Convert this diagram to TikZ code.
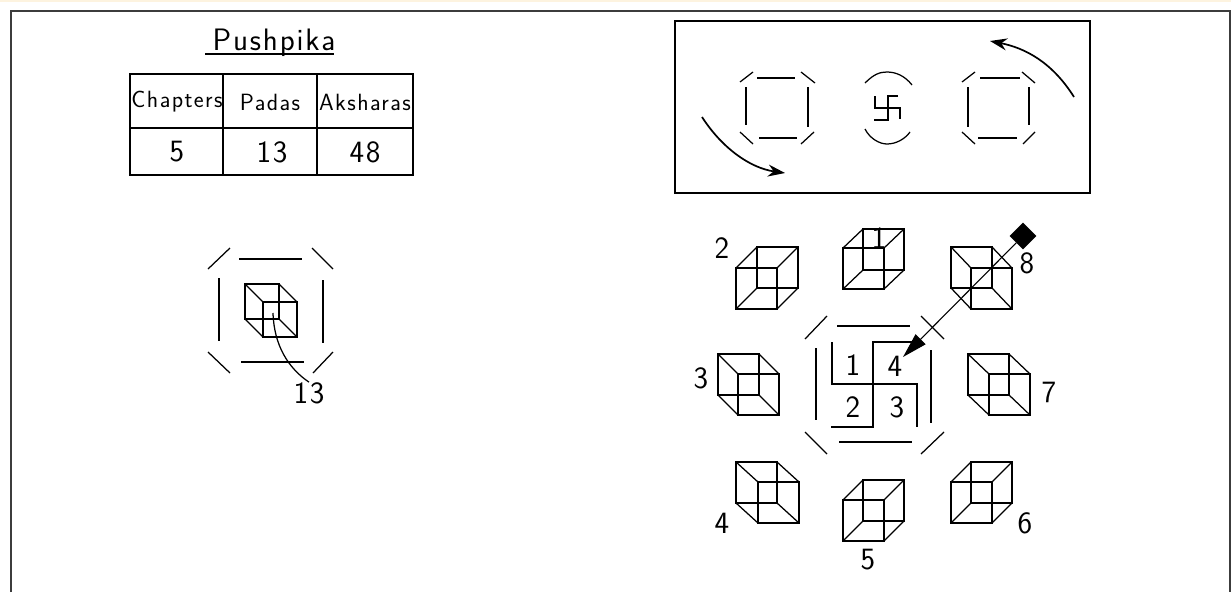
\documentclass[tikz,border=0pt]{standalone}
\usepackage{fontspec}
\newfontfamily\cadfont[LetterSpace=6]{Latin Modern Sans}
\usetikzlibrary{arrows.meta,shapes.geometric}
\definecolor{framegray}{RGB}{60,60,60}
\definecolor{stripcream}{RGB}{253,243,223}
\tikzset{
  line/.style={line width=1.25pt,black},
  lab/.style={font=\cadfont\fontsize{31}{31}\selectfont,inner sep=0pt},
  headlab/.style={font=\cadfont\fontsize{23.5}{24}\selectfont,inner sep=0pt},
  turn/.style={line width=1.7pt,-{Stealth[length=17pt,width=12pt]}}
}
\begin{document}
\begin{tikzpicture}[x=1pt,y=-1pt]
 \useasboundingbox (0,0) rectangle (1231,592);
 \fill[white] (0,0) rectangle (1231,592);
 \fill[stripcream] (0,0) rectangle (1231,2);
 % frame
 \draw[framegray,line width=2.5pt] (11,592) -- (11,11) -- (1230,11) -- (1230,592);

 % title
 \node[lab] (title) at (274,43) {Pushpika};
 \coordinate (titleL) at (205,54);
 \coordinate (titleR) at (334,54);
 \draw[line] (titleL) -- (titleR);

 % table
 \draw[line] (130,74) rectangle (413,175);
 \draw[line] (130,128) -- (413,128);
 \draw[line] (223,74) -- (223,175);
 \draw[line] (317,74) -- (317,175);
 \node[headlab] (chap) at (177,102) {Chapters};
 \node[headlab] (pada) at (270,102) {Padas};
 \node[headlab] (aksh) at (365,102) {Aksharas};
 \node[lab] (nchap) at (177,152) {5};
 \node[lab] (npada) at (272,152) {13};
 \node[lab] (naksh) at (365,152) {48};

 % left octagon
 \draw[line] (239,259) -- (302,259);
 \draw[line] (241,362) -- (304,362);
 \draw[line] (219,278) -- (219,341);
 \draw[line] (323,280) -- (323,343);
 \draw[line] (208,269) -- (230,248);
 \draw[line] (312,248) -- (333,269);
 \draw[line] (208,352) -- (230,373);
 \draw[line] (313,373) -- (333,352);

 % left cube
 \draw[line] (245,284) rectangle (279,319);
 \draw[line] (263,302) rectangle (297,337);
 \draw[line] (245,284) -- (263,302);
 \draw[line] (279,284) -- (297,302);
 \draw[line] (245,319) -- (263,337);
 \draw[line] (279,319) -- (297,337);
 \node[lab] (pada13) at (309,393) {13};
 \coordinate (cubeC) at (273,313);
 \draw[line] (cubeC) .. controls (274,345) and (288,368) .. (pada13.north);

 % top box
 \draw[black,line width=1.6pt] (675,21) rectangle (1090,193);

 % box, left square
 \draw[line] (757,78) -- (795,78);
 \draw[line] (759,138) -- (797,138);
 \draw[line] (746,87) -- (746,125);
 \draw[line] (808,87) -- (808,127);
 \draw[line] (740,82) -- (753,72);
 \draw[line] (801,72) -- (815,83);
 \draw[line] (740,132) -- (753,144);
 \draw[line] (801,144) -- (814,132);

 % box, middle
 \draw[line] (865,83) .. controls (874,74) and (880,72) .. (887,72) .. controls (896,72) and (905,76) .. (912,85);
 \draw[line] (865,129) .. controls (870,139) and (880,144) .. (887,144) .. controls (896,144) and (905,139) .. (910,132);
 \draw[line] (898,96) -- (888,96) -- (888,120) -- (874,120);
 \draw[line] (875,96) -- (875,108) -- (900,108) -- (900,119);

 % box, right square
 \draw[line] (980,78) -- (1020,78);
 \draw[line] (978,138) -- (1017,138);
 \draw[line] (968,87) -- (968,127);
 \draw[line] (1029,87) -- (1029,125);
 \draw[line] (962,82) -- (975,72);
 \draw[line] (1022,72) -- (1035,83);
 \draw[line] (962,132) -- (975,144);
 \draw[line] (1023,144) -- (1035,132);

 % box, arrows
 \coordinate (turnA) at (702,117);
 \coordinate (turnB) at (785,173);
 \coordinate (turnC) at (1074,97);
 \coordinate (turnD) at (990,41);
 \draw[turn] (turnA) .. controls (722,148) and (750,168) .. (turnB);
 \draw[turn] (turnC) .. controls (1052,62) and (1025,48) .. (turnD);

 % eight cubes
 \foreach \x/\y/\dx/\dy in {757/247/-21/21, 863/229/-20/19, 951/247/20/21,
                            718/354/20/20, 968/354/21/20,
                            736/462/22/20, 863/480/-20/20, 971/462/-20/20}{
   \draw[line] (\x,\y) rectangle ++(41,41);
   \draw[line] (\x+\dx,\y+\dy) rectangle ++(41,41);
   \draw[line] (\x,\y) -- ++(\dx,\dy);
   \draw[line] (\x+41,\y) -- ++(\dx,\dy);
   \draw[line] (\x,\y+41) -- ++(\dx,\dy);
   \draw[line] (\x+41,\y+41) -- ++(\dx,\dy);
 }
 \node[lab] (c1) at (879,238) {1};
 \node[lab] (c2) at (722,248) {2};
 \node[lab] (c3) at (701,378) {3};
 \node[lab] (c4) at (722,523) {4};
 \node[lab] (c5) at (868,560) {5};
 \node[lab] (c6) at (1025,523) {6};
 \node[lab] (c7) at (1049,392) {7};
 \node[lab] (c8) at (1027,263) {8};

 % big octagon
 \draw[line] (837,326) -- (910,326);
 \draw[line] (839,442) -- (912,442);
 \draw[line] (816,348) -- (816,420);
 \draw[line] (931,350) -- (931,423);
 \draw[line] (805,339) -- (827,316);
 \draw[line] (921,316) -- (944,339);
 \draw[line] (805,432) -- (827,454);
 \draw[line] (921,454) -- (944,432);

 % inner square
 \draw[line] (832,342) -- (832,384) -- (917,384) -- (917,427);
 \draw[line] (915,342) -- (873,342) -- (873,427) -- (831,427);
 \node[lab] (in1) at (853,365) {1};
 \node[lab] (in4) at (895,366) {4};
 \node[lab] (in2) at (853,407) {2};
 \node[lab] (in3) at (897,407) {3};

 % pointer
 \node[diamond,fill=black,minimum width=27pt,minimum height=27pt,inner sep=0pt] (gem) at (1023,236) {};
 \coordinate (tip) at (903,357);
 \draw[line width=1.1pt,-{Triangle[length=25pt,width=14pt]}] (gem) -- (tip);
\end{tikzpicture}
\end{document}
